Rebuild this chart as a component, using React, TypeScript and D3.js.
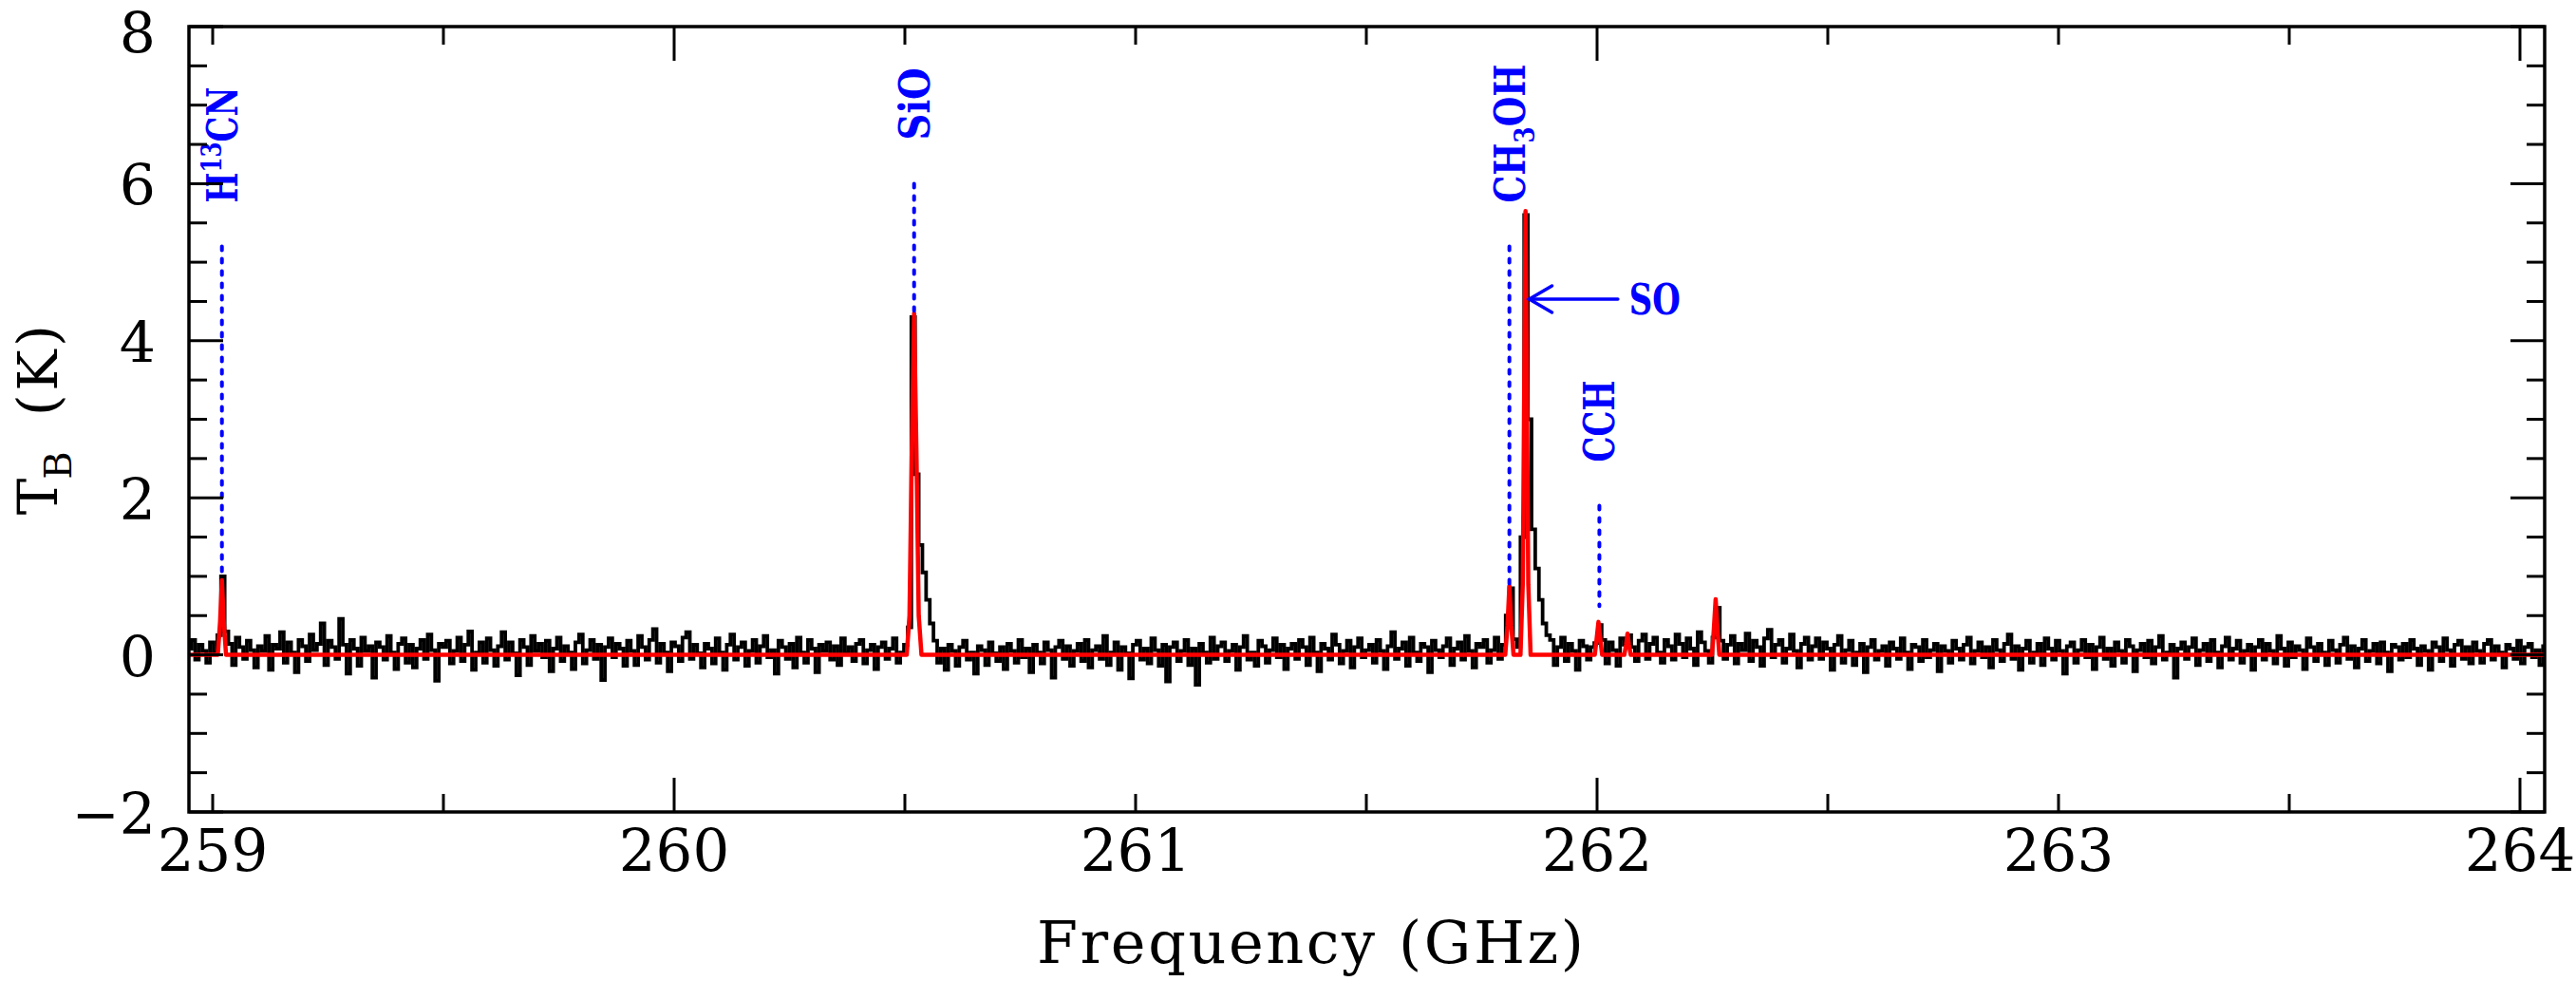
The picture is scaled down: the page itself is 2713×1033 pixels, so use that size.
import * as d3 from "d3";

const width = 2713;
const height = 1033;
// plot frame: 199..2680 horizontally, 28..855 vertically
const margin = { top: 28, right: 33, bottom: 178, left: 199 };

// observed spectrum: channel centres start at freqStart, one every freqStep (GHz), values in 0.01 K
const freqStart = 258.95;
const freqStep = 0.008;
const spectrumCentiK = [
  8, 19, -6, 13, 5, -10, 16, 3, 25, 100, 30, 14, -13, 22, 10, -5, 18, 6, -16, 11,
  5, 24, -19, 13, 8, 29, -10, 16, 3, -22, 19, 11, -8, 26, 6, 14, 40, -13, 18, 10,
  -5, 46, 13, -24, 19, 8, -14, 22, 5, 11, -29, 16, 10, -6, 24, 3, -18, 14, 21, -10,
  13, -16, 8, 19, -5, 26, 6, -33, 14, 10, 18, -11, 5, 22, -8, 13, 30, -19, 3, 16,
  -10, 21, 6, -14, 11, 29, -6, 16, 2, -26, 19, 10, -13, 24, 5, 14, -3, 18, -21, 8,
  22, -8, 11, 3, -18, 16, 26, -11, 6, 19, -5, 13, -32, 10, 21, -3, 14, 8, -14, 18,
  5, -13, 24, 10, -6, 19, 33, -10, 14, 3, -21, 16, 11, -8, 22, 29, -5, 13, 2, -16,
  14, 8, -11, 21, 3, -19, 13, 26, -6, 10, 16, -14, 5, 19, -10, 11, 24, -3, 6, -24,
  18, 10, -5, 14, -16, 22, 3, -10, 19, 8, -22, 13, 5, 16, -6, 11, -13, 21, 2, 10,
  -8, 14, 19, -11, 6, 13, -18, 10, 16, -5, 8, 21, -10, 3, 13, 35, 430, 230, 140, 105,
  70, 40, 18, -10, 8, -19, 13, 5, -14, 10, 18, -6, 3, -24, 11, 6, -13, 16, 2, -8,
  10, -18, 14, 5, -10, 19, -3, 8, -22, 13, 3, -11, 16, 6, -29, 10, 18, -5, 11, -14,
  5, 14, -8, 19, -16, 6, 11, -5, 24, -13, 3, 16, -19, 10, 2, -30, 13, 18, -6, 8,
  -11, 21, 6, -14, 13, -34, 10, 16, -8, 5, 19, -13, 8, -38, 14, 3, -10, 22, -5, 11,
  16, -8, 5, 13, -19, 10, 24, -6, 3, -14, 18, 11, -10, 6, 21, -3, 13, -18, 8, 14,
  -5, 19, 10, -13, 22, 3, -21, 14, 8, -6, 26, 13, -11, 5, 18, -16, 10, 21, -3, 6,
  13, -10, 19, 5, -18, 11, 29, -5, 8, 16, -14, 22, 3, -8, 14, 10, -22, 18, 6, -3,
  11, 21, -13, 8, 16, -6, 24, 5, -16, 14, 10, 19, -10, 6, 22, -5, 13, 50, 85, 20,
  10, 150, 560, 300, 160, 110, 70, 40, 25, 19, -13, 10, 22, -8, 14, 5, -19, 18, 11, -6,
  10, 15, 38, 19, -11, 16, 6, -14, 21, 13, 25, 10, -8, 18, 26, -5, 14, 22, 3, -10,
  19, 11, -6, 26, 14, -3, 21, 8, -13, 29, 16, 5, -10, 22, 60, 18, -5, 13, 24, -11,
  14, 6, 27, -8, 18, 10, -14, 21, 32, -3, 13, 19, -10, 8, 26, 5, -16, 14, 22, -6,
  11, 21, -5, 16, 8, -19, 13, 24, -10, 6, 18, -13, 3, 14, -22, 10, 19, -6, 5, 11,
  -14, 16, 8, -5, 21, 3, -18, 13, 10, -8, 19, -3, 6, 14, -21, 11, 5, -10, 18, 8,
  -6, 13, 22, -11, 5, 16, -3, 10, -16, 19, 6, -8, 14, 26, -5, 11, -19, 8, 18, -10,
  3, 14, -13, 21, 8, -6, 18, 5, -24, 11, 16, -10, 6, 19, -3, 13, -18, 10, 22, -5,
  8, -14, 16, 5, -10, 19, 11, -21, 6, 14, -3, 18, -11, 10, 24, -6, 3, 13, -29, 8,
  16, -5, 10, 21, -13, 6, 14, -8, 19, 3, -16, 11, 22, -6, 8, 18, -10, 5, 13, -19,
  10, 19, -6, 14, 5, -11, 24, 8, -14, 16, -3, 11, 6, -18, 21, 10, -8, 14, 3, -13,
  18, 6, -10, 13, 22, -5, 11, -16, 8, 19, -8, 5, 14, -11, 16, 3, -21, 13, 10, -6,
  14, -3, 19, 8, -13, 11, 5, -19, 16, 10, -8, 21, 6, -14, 13, 18, -5, 10, -11, 16,
  5, -10, 14, 19, -6, 11, 3, -16, 13, 8, -5, 18, -11, 10, 14, -3, 6, -13, 11,
];

// fitted model (red): [GHz, K] points, flat zero between the lines
const modelPoints: [number, number][] = [
  [258.95, 0],
  [259.011, 0], [259.016, 0.42], [259.02, 0.95], [259.024, 0.42], [259.029, 0],
  [260.504, 0], [260.51, 0.5], [260.515, 2.6], [260.52, 4.35], [260.525, 2.6], [260.53, 0.5], [260.536, 0],
  [261.801, 0], [261.806, 0.38], [261.81, 0.88], [261.814, 0.38], [261.819, 0],
  [261.834, 0], [261.839, 0.9], [261.842, 3.3], [261.845, 5.65], [261.848, 3.3], [261.851, 0.9], [261.856, 0],
  [261.995, 0], [261.999, 0.2], [262.003, 0.42], [262.007, 0.2], [262.011, 0],
  [262.059, 0], [262.063, 0.13], [262.066, 0.27], [262.069, 0.13], [262.073, 0],
  [262.249, 0], [262.253, 0.32], [262.257, 0.71], [262.261, 0.32], [262.265, 0],
  [264.06, 0],
];

const xTickValues = [259, 260, 261, 262, 263, 264];
const yTickValues = [-2, 0, 2, 4, 6, 8];

// identified transitions: label pieces ([text, shift] with 1 = superscript, -1 = subscript)
const lineLabels: [string, number][][] = [
  [["H", 0], ["13", 1], ["CN", 0]],
  [["SiO", 0]],
  [["CH", 0], ["3", -1], ["OH", 0]],
  [["CCH", 0]],
];
const lineFreqs = [259.02, 260.52, 261.81, 262.005];
const lineTops = [5.2, 6.0, 5.2, 1.9];
const lineBottoms = [0.97, 4.38, 0.9, 0.62];
// typewriter-like label lengths (px)
const labelLengths = [122, 76, 146, 86];

// SO pointer: arrow from arrowFrom to arrowTo (GHz) at arrowLevel (K)
const soLabel = "SO";
const arrowFrom = 262.045;
const arrowTo = 261.853;
const arrowLevel = 4.53;

const serif = "'DejaVu Serif', serif";
const labelSize = 44;
const shiftSize = 30;

export default function App() {
  const x = d3.scaleLinear()
    .domain([259 - 25 / 486, 264 + 26 / 486])
    .range([margin.left, width - margin.right]);
  const y = d3.scaleLinear()
    .domain([-2, 8])
    .range([height - margin.bottom, margin.top]);

  const x0 = margin.left;
  const x1 = width - margin.right;
  const y0 = height - margin.bottom;
  const y1 = margin.top;

  const spectrum = spectrumCentiK.map((v, i) => [freqStart + i * freqStep, v / 100] as [number, number]);

  const stepLine = d3.line<[number, number]>()
    .x((d) => x(d[0]))
    .y((d) => y(d[1]))
    .curve(d3.curveStep);
  const modelLine = d3.line<[number, number]>()
    .x((d) => x(d[0]))
    .y((d) => y(d[1]));

  const xTicks = d3.range(259, 264.001, 0.5);
  const yTicks = d3.range(-2, 8.001, 0.5);
  const isMajor = (v: number) => Math.abs(v % 2) < 1e-6;

  const arrowTip = x(arrowTo);
  const arrowY = y(arrowLevel);

  // offset (in the rotated text frame) for super/subscripts
  const shiftDy = (s: number) => (s === 1 ? -17 : s === -1 ? 10 : 0);

  return (
    <svg
      width={width}
      height={height}
      style={{ position: "absolute", left: 0, top: 0, background: "#fff" }}
    >
      <defs>
        <clipPath id="plot-clip">
          <rect x={x0} y={y1} width={x1 - x0} height={y0 - y1} />
        </clipPath>
      </defs>

      <g clipPath="url(#plot-clip)">
        <path d={stepLine(spectrum) ?? ""} fill="none" stroke="#000" strokeWidth={3.8} />
        <path d={modelLine(modelPoints) ?? ""} fill="none" stroke="#ff0000" strokeWidth={4.5} strokeLinejoin="round" />
      </g>

      {/* dotted markers + rotated molecule names */}
      {lineFreqs.map((f, i) => {
        const lx = x(f);
        const labelStart = y(lineTops[i]) - 46;
        const parts = lineLabels[i];
        return (
          <g key={i}>
            <line
              x1={lx}
              x2={lx}
              y1={y(lineTops[i])}
              y2={y(lineBottoms[i])}
              stroke="#0000ff"
              strokeWidth={4}
              strokeDasharray="4 9"
              strokeLinecap="round"
            />
            <text
              transform={`translate(${lx + 16},${labelStart}) rotate(-90)`}
              fill="#0000ff"
              fontFamily={serif}
              fontWeight="bold"
              fontSize={labelSize}
              textLength={labelLengths[i]}
              lengthAdjust="spacingAndGlyphs"
            >
              {parts.map(([t, s], j) => {
                const prev = j > 0 ? parts[j - 1][1] : 0;
                return (
                  <tspan key={j} dy={shiftDy(s) - shiftDy(prev)} fontSize={s === 0 ? labelSize : shiftSize}>
                    {t}
                  </tspan>
                );
              })}
            </text>
          </g>
        );
      })}

      {/* SO arrow */}
      <g stroke="#0000ff" strokeWidth={3.5} fill="none" strokeLinecap="round">
        <line x1={x(arrowFrom)} x2={arrowTip} y1={arrowY} y2={arrowY} />
        <polyline points={`${arrowTip + 24},${arrowY - 14} ${arrowTip},${arrowY} ${arrowTip + 24},${arrowY + 14}`} />
      </g>
      <text
        x={x(arrowFrom) + 12}
        y={arrowY + 16}
        fill="#0000ff"
        fontFamily={serif}
        fontWeight="bold"
        fontSize={labelSize}
        textLength={54}
        lengthAdjust="spacingAndGlyphs"
      >
        {soLabel}
      </text>

      {/* ticks on all four sides */}
      <g stroke="#000" strokeWidth={3}>
        {xTicks.map((t) => {
          const len = isMajor(t) ? 36 : 19;
          return (
            <g key={`x${t}`}>
              <line x1={x(t)} x2={x(t)} y1={y0} y2={y0 - len} />
              <line x1={x(t)} x2={x(t)} y1={y1} y2={y1 + len} />
            </g>
          );
        })}
        {yTicks.map((t) => {
          const len = isMajor(t) ? 36 : 19;
          return (
            <g key={`y${t}`}>
              <line x1={x0} x2={x0 + len} y1={y(t)} y2={y(t)} />
              <line x1={x1} x2={x1 - len} y1={y(t)} y2={y(t)} />
            </g>
          );
        })}
      </g>

      <rect x={x0} y={y1} width={x1 - x0} height={y0 - y1} fill="none" stroke="#000" strokeWidth={3.5} />

      {/* tick labels */}
      {xTickValues.map((t) => (
        <text key={`xl${t}`} x={x(t)} y={917} textAnchor="middle" fontFamily={serif} fontSize={61}>
          {t}
        </text>
      ))}
      {yTickValues.map((t) => (
        <text
          key={`yl${t}`}
          x={164}
          y={Math.max(y(t) + 23, 56)}
          textAnchor="end"
          fontFamily={serif}
          fontSize={60}
        >
          {t < 0 ? `\u2212${Math.abs(t)}` : t}
        </text>
      ))}

      {/* axis titles */}
      <text
        x={1380}
        y={1014}
        textAnchor="middle"
        fontFamily={serif}
        fontSize={62}
        textLength={576}
        lengthAdjust="spacing"
      >
        Frequency (GHz)
      </text>
      <text transform="translate(60,523) rotate(-90)" textAnchor="middle" fontFamily={serif} fontSize={58}>
        T
      </text>
      <text transform="translate(75,490) rotate(-90)" textAnchor="middle" fontFamily={serif} fontSize={40}>
        B
      </text>
      <text
        transform="translate(60,390) rotate(-90)"
        textAnchor="middle"
        fontFamily={serif}
        fontSize={58}
        textLength={96}
        lengthAdjust="spacing"
      >
        (K)
      </text>
    </svg>
  );
}
